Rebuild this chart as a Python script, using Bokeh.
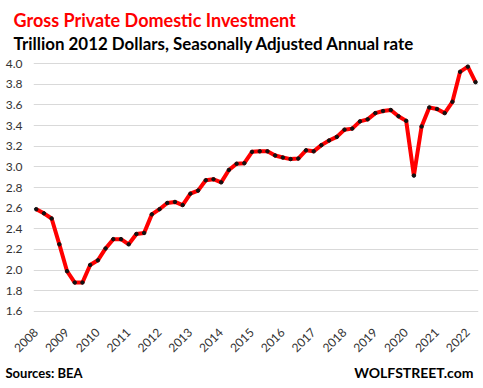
import math
from bokeh.plotting import figure
from bokeh.layouts import column
from bokeh.models import Range1d, FixedTicker, NumeralTickFormatter, Label, ColumnDataSource
from bokeh.embed import file_html
from bokeh.resources import INLINE

# Quarterly data, 2008 Q1 .. 2022 Q2 (trillion 2012 dollars, SAAR)
start_year = 2008
values = [2.59, 2.55, 2.50, 2.25, 1.99, 1.88, 1.88, 2.05, 2.095, 2.21,
          2.30, 2.30, 2.25, 2.35, 2.36, 2.54, 2.59, 2.65, 2.66, 2.63,
          2.74, 2.77, 2.87, 2.88, 2.85, 2.97, 3.03, 3.035, 3.145, 3.15,
          3.15, 3.11, 3.09, 3.075, 3.08, 3.16, 3.15, 3.21, 3.255, 3.29,
          3.36, 3.37, 3.44, 3.46, 3.52, 3.54, 3.55, 3.49, 3.445, 2.915,
          3.39, 3.575, 3.56, 3.52, 3.63, 3.92, 3.97, 3.82]
year_labels = [str(y) for y in range(2008, 2023)]
y_ticks = [1.6, 1.8, 2.0, 2.2, 2.4, 2.6, 2.8, 3.0, 3.2, 3.4, 3.6, 3.8, 4.0]

title_text = "Gross Private Domestic Investment"
subtitle_text = "Trillion 2012 Dollars, Seasonally Adjusted Annual rate"
source_text = "Sources: BEA"
brand_text = "WOLFSTREET.com"

xs = [start_year + i / 4 for i in range(len(values))]
src = ColumnDataSource(dict(x=xs, y=values))

FONT = "Lato"
W = 483
HDR_H = 55
FTR_H = 30


def blank(height):
    f = figure(width=W, height=height, output_backend="svg", toolbar_location=None,
               x_axis_type=None, y_axis_type=None, frame_align=False,
               x_range=Range1d(0, W), y_range=Range1d(0, height),
               min_border_left=0, min_border_right=0, min_border_top=0, min_border_bottom=0)
    f.grid.visible = False
    f.outline_line_color = None
    return f


# header
hdr = blank(HDR_H)
hdr.add_layout(Label(x=13, y=HDR_H - 23.3 + 3.5, x_units="screen", y_units="screen", text=title_text,
                     text_font=FONT, text_font_style="bold", text_font_size="18px",
                     text_color="#ff0000", text_baseline="alphabetic"))
hdr.add_layout(Label(x=13, y=HDR_H - 47.7 + 4.5, x_units="screen", y_units="screen", text=subtitle_text,
                     text_font=FONT, text_font_style="bold", text_font_size="16.9px",
                     text_color="#000000", text_baseline="alphabetic"))

# main chart
p = figure(width=W, height=303, output_backend="svg", toolbar_location=None, frame_align=False,
           x_range=Range1d(2007.912, 2022.346), y_range=Range1d(1.59, 4.01),
           min_border_left=33, min_border_right=5, min_border_top=7, min_border_bottom=40)
p.outline_line_color = None
p.xgrid.grid_line_color = None
p.ygrid.grid_line_color = "#d9d9d9"
p.ygrid.grid_line_width = 1

p.yaxis.ticker = FixedTicker(ticks=y_ticks)
p.yaxis.formatter = NumeralTickFormatter(format="0.0")
p.xaxis.ticker = FixedTicker(ticks=[int(s) for s in year_labels])
p.xaxis.major_label_overrides = {int(s): s for s in year_labels}
p.xaxis.major_label_orientation = math.pi / 4

for ax in (p.xaxis[0], p.yaxis[0]):
    ax.axis_line_color = None
    ax.major_tick_line_color = None
    ax.minor_tick_line_color = None
    ax.major_tick_out = 0
    ax.major_tick_in = 0
    ax.major_label_text_font = FONT
    ax.major_label_text_font_size = "12px"
    ax.major_label_text_color = "#333333"
p.yaxis.major_label_standoff = 11
p.xaxis.major_label_standoff = 18

p.line("x", "y", source=src, line_color="#ff0000", line_width=4)
p.scatter("x", "y", source=src, size=3.5, color="#111111")

# footer
ftr = blank(FTR_H)
ftr.add_layout(Label(x=5, y=FTR_H - 17.5 + 3.5, x_units="screen", y_units="screen", text=source_text,
                     text_font=FONT, text_font_style="bold", text_font_size="13px",
                     text_color="#000000", text_baseline="alphabetic"))
ftr.add_layout(Label(x=473, y=FTR_H - 17.5 + 3.5, x_units="screen", y_units="screen", text=brand_text,
                     text_font=FONT, text_font_style="bold", text_font_size="14px",
                     text_color="#000000", text_baseline="alphabetic", text_align="right"))

layout = column(hdr, p, ftr, spacing=0)
open("out.html", "w").write(file_html(layout, INLINE))
